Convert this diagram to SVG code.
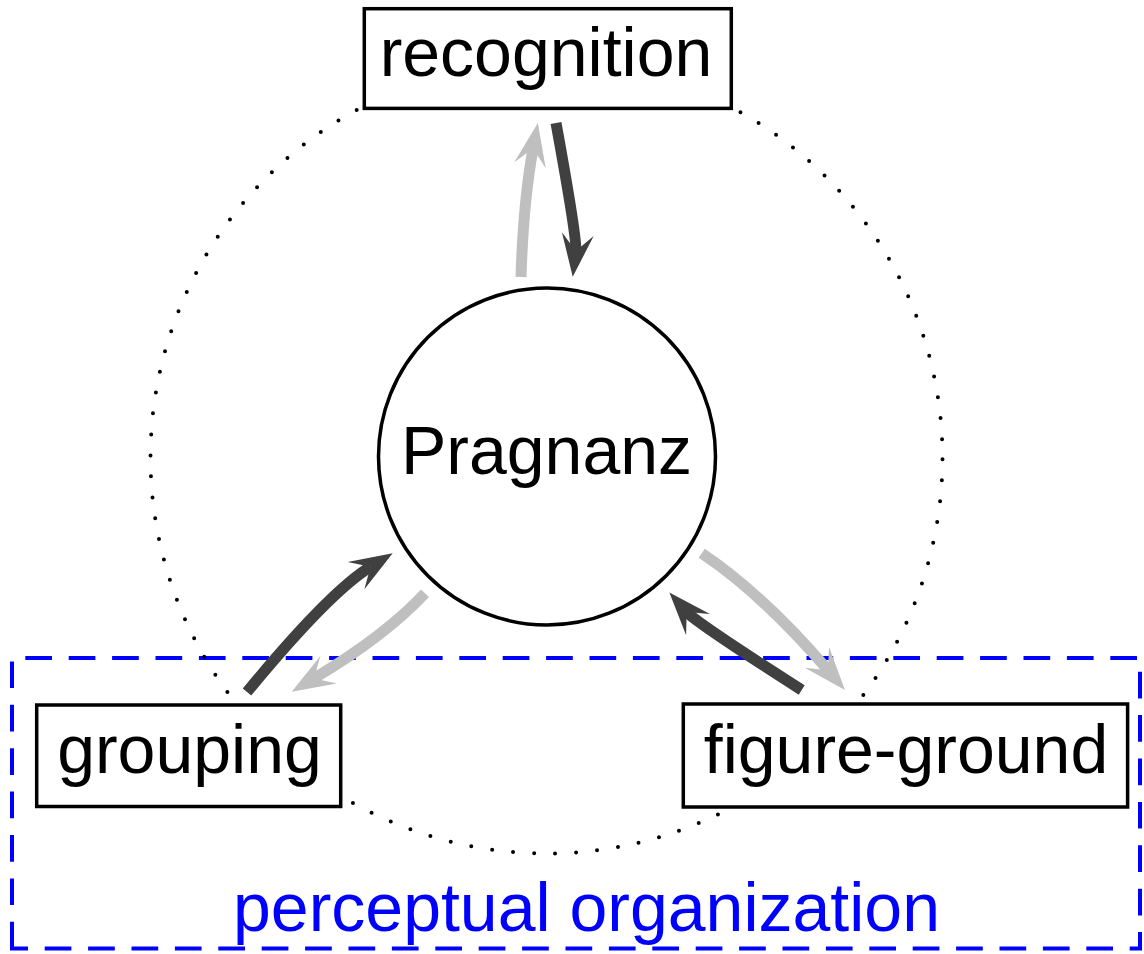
<svg xmlns="http://www.w3.org/2000/svg" width="1144" height="954" viewBox="0 0 1144 954">
<style>
.lbl{font-family:"Liberation Sans",Arial,sans-serif;font-size:68px;fill:#000;text-anchor:middle}
.box{fill:#fff;stroke:#000;stroke-width:3.5}
.dk{fill:none;stroke:#404040;stroke-width:11;marker-end:url(#hd)}
.lt{fill:none;stroke:#bfbfbf;stroke-width:11;marker-end:url(#hl)}
</style>
<defs>
<marker id="hd" viewBox="-22 -20 52 40" markerWidth="52" markerHeight="40" refX="0" refY="0" markerUnits="userSpaceOnUse" orient="auto">
<path d="M26,0 L-17,-16 L0,0 L-17,16 Z" fill="#404040"/>
</marker>
<marker id="hl" viewBox="-22 -20 52 40" markerWidth="52" markerHeight="40" refX="0" refY="0" markerUnits="userSpaceOnUse" orient="auto">
<path d="M26,0 L-17,-16 L0,0 L-17,16 Z" fill="#bfbfbf"/>
</marker>
</defs>
<rect width="1144" height="954" fill="#fff"/>
<g id="perceptual-organization">
<path d="M12,948.5 V658 H1140 V948.5 Z" fill="none" stroke="#0000ff" stroke-width="4" stroke-dasharray="26.7 16.7"/>
</g>
<g id="cycle">
<circle cx="546.5" cy="457.5" r="396" fill="none" stroke="#000" stroke-width="4" stroke-linecap="round" stroke-dasharray="0 21.085" stroke-dashoffset="-1.7"/>
</g>
<g id="connectors">
<path class="lt" d="M521,277 Q523.4,200.5 533.1,148.5"/>
<path class="dk" d="M556,123 Q577.2,239.2 575.8,251"/>
<path class="dk" d="M247,692 Q329.6,591.9 370.5,566.8"/>
<path class="lt" d="M425,593.3 Q385.2,635.9 314,678.4"/>
<path class="lt" d="M701.7,553.3 Q762.6,594 828,670.2"/>
<path class="dk" d="M801.7,690 Q696,622.4 686.7,612"/>
</g>
<g id="pragnanz">
<circle cx="547" cy="456.5" r="168.5" fill="#fff" stroke="#000" stroke-width="3.5"/>
<text class="lbl" x="546.5" y="474">Pragnanz</text>
</g>
<g id="recognition">
<rect class="box" x="364.3" y="8.7" width="367" height="99.7"/>
<text class="lbl" x="546" y="76">recognition</text>
</g>
<g id="grouping">
<rect class="box" x="36.7" y="705" width="304" height="101.5"/>
<text class="lbl" x="189.5" y="773">grouping</text>
</g>
<g id="figure-ground">
<rect class="box" x="683.3" y="704" width="444.3" height="103"/>
<text class="lbl" x="906" y="773">figure-ground</text>
</g>
<g id="perceptual-organization-label">
<text class="lbl" x="586.5" y="931" style="fill:#0000ff">perceptual organization</text>
</g>
</svg>
